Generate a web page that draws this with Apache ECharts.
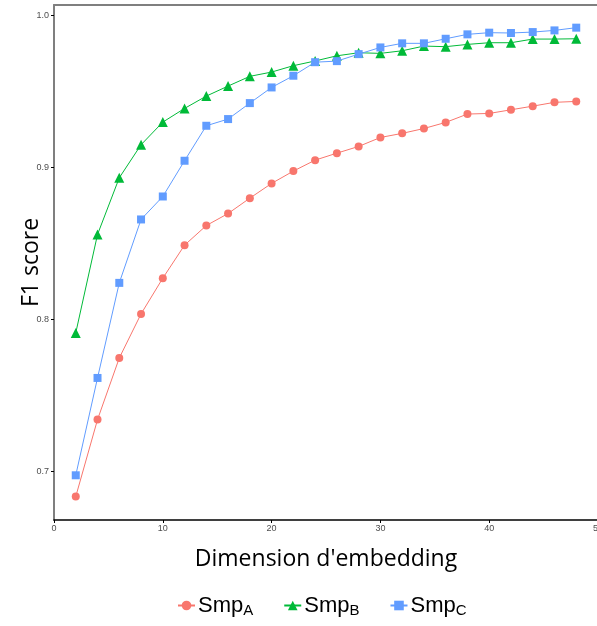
<!DOCTYPE html>
<html><head><meta charset="utf-8">
<script src="https://cdn.jsdelivr.net/npm/echarts@6/dist/echarts.min.js"></script>
<style>html,body{margin:0;padding:0;background:#fff}#c{width:597px;height:626px}</style>
</head><body><div id="c"></div>
<script>
const dims = [2,4,6,8,10,12,14,16,18,20,22,24,26,28,30,32,34,36,38,40,42,44,46,48];
const smpA = [0.6834,0.734,0.7745,0.8035,0.827,0.8487,0.8616,0.8695,0.8796,0.8893,0.8974,0.9046,0.9092,0.9136,0.9195,0.9222,0.9254,0.9294,0.9349,0.9353,0.9377,0.9401,0.9426,0.9432];
const smpB = [0.791,0.8557,0.893,0.9147,0.9296,0.9386,0.9467,0.9533,0.9597,0.9625,0.9667,0.9698,0.9732,0.9752,0.9748,0.9765,0.9796,0.9792,0.9807,0.9818,0.9818,0.9842,0.9842,0.9844];
const smpC = [0.6974,0.7614,0.8239,0.8656,0.8807,0.9042,0.9272,0.9316,0.9421,0.9524,0.9601,0.969,0.9697,0.9743,0.9787,0.9814,0.9814,0.9844,0.9873,0.9884,0.9882,0.9888,0.9899,0.9917];
const yTicks = [0.7,0.8,0.9,1.0];
const xTicks = [0,10,20,30,40,50];
const names = ['A','B','C'];
const colors = ['#F8766D','#00BA38','#619CFF'];
const symbols = ['circle','triangle','rect'];
const sizes = [8,10,8];
const values = [smpA,smpB,smpC];

const chart = echarts.init(document.getElementById('c'));
chart.setOption({
  animation:false,
  grid:{left:54,right:-1,top:5,bottom:106,outerBoundsMode:'none',containLabel:false},
  xAxis:[{
    type:'value',min:0,max:50,interval:10,
    name:"Dimension d'embedding",nameLocation:'middle',nameGap:28,nameMoveOverlap:false,
    nameTextStyle:{fontSize:23,color:'#000',fontFamily:'Open Sans',verticalAlign:'top'},
    axisLine:{show:true,onZero:false,lineStyle:{color:'#000',width:1.5}},
    axisTick:{show:true,length:3,lineStyle:{color:'#000'}},
    axisLabel:{fontSize:9,color:'#4d4d4d',margin:4,fontFamily:'Liberation Sans'},
    splitLine:{show:false}
  },{
    type:'value',position:'top',min:0,max:50,
    axisLine:{show:true,lineStyle:{color:'#7f7f7f',width:2}},
    axisTick:{show:false},axisLabel:{show:false},splitLine:{show:false}
  }],
  yAxis:{
    type:'value',min:0.668,max:1.0066,
    name:'F1 score',nameLocation:'middle',nameGap:11,nameMoveOverlap:false,
    nameTextStyle:{fontSize:23,color:'#000',fontFamily:'Open Sans',verticalAlign:'bottom'},
    axisLine:{show:true,onZero:false,lineStyle:{color:'#7f7f7f',width:2}},
    axisTick:{show:true,length:3,customValues:yTicks,lineStyle:{color:'#000'}},
    axisLabel:{fontSize:9,color:'#4d4d4d',margin:5,customValues:yTicks,fontFamily:'Liberation Sans',
      formatter:v=>v.toFixed(1)},
    splitLine:{show:false}
  },
  legend:{
    bottom:3,left:172,itemGap:30,itemWidth:17,itemHeight:12,
    data:names,
    formatter:n=>'{b|Smp}{s|'+n+'}',
    textStyle:{padding:[0,0,0,-2],rich:{
      b:{fontSize:22,color:'#000',fontFamily:'Liberation Sans'},
      s:{fontSize:15,color:'#000',fontFamily:'Liberation Sans',verticalAlign:'bottom',padding:[10,0,0,0]}
    }}
  },
  series:names.map((n,i)=>({
    name:n,type:'line',
    data:dims.map((d,j)=>[d,values[i][j]]),
    symbol:symbols[i],symbolSize:sizes[i],
    itemStyle:{color:colors[i]},
    lineStyle:{color:colors[i],width:1},
    z:i===2?3:2
  }))
});
</script></body></html>
